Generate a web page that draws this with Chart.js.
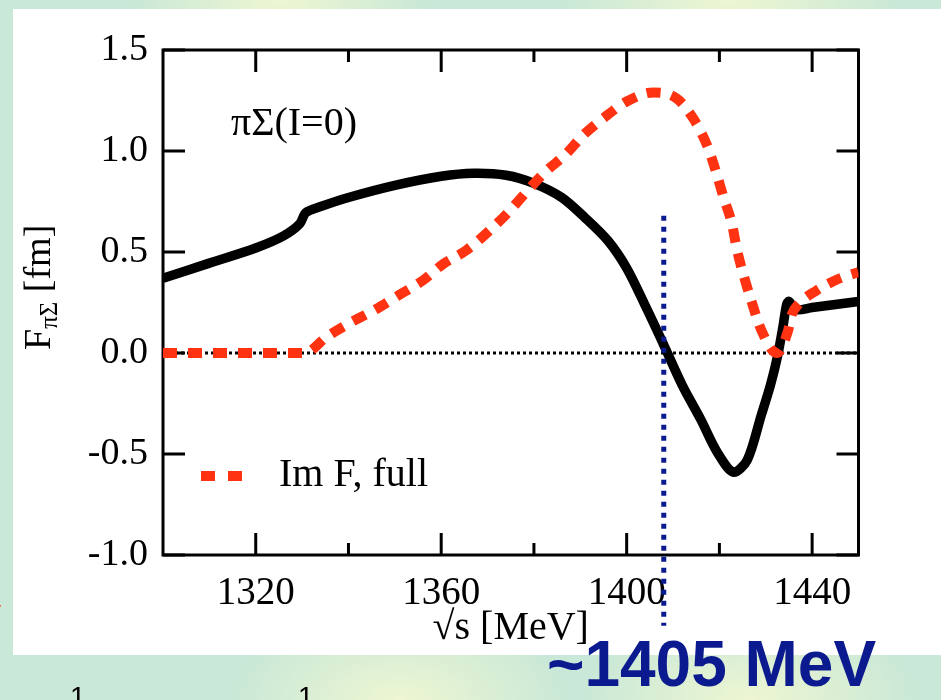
<!DOCTYPE html>
<html><head><meta charset="utf-8">
<script src="https://cdn.jsdelivr.net/npm/chart.js@4/dist/chart.umd.min.js"></script>
<style>
html,body{margin:0;padding:0;width:941px;height:700px;overflow:hidden;}
body{position:relative;background:
 radial-gradient(ellipse 150px 60px at 280px 0px, #eef6d2, rgba(238,246,210,0)),
 radial-gradient(ellipse 170px 60px at 730px 0px, #eef6d2, rgba(238,246,210,0)),
 radial-gradient(ellipse 170px 90px at 400px 700px, #eef6d2, rgba(238,246,210,0)),
 radial-gradient(ellipse 170px 90px at 750px 700px, #eef6d2, rgba(238,246,210,0)),
 #c9e8d7;}
#panel{position:absolute;left:13px;top:9px;width:928px;height:646px;background:#fff;}
#c{position:absolute;left:0;top:0;}
#note{position:absolute;left:547px;top:632px;font:bold 64px "Liberation Sans",Arial,sans-serif;line-height:64px;color:#0b1a8e;white-space:nowrap;}
.frag{position:absolute;font:28px "Liberation Sans",Arial,sans-serif;line-height:28px;color:#000;}
</style></head>
<body>
<div id="panel"></div>
<canvas id="c" width="941" height="700"></canvas>
<div id="note">~1405 MeV</div>
<span class="frag" style="left:70px;top:683px;">1</span>
<span class="frag" style="left:298px;top:683px;">1</span>
<span class="frag" style="left:-10px;top:596px;color:#ff3300;font-size:22px;">v</span>
<script>
// ---- data ----
const reX = [1300,1310,1320,1326,1329.5,1330.8,1334,1340,1350,1360,1367,1374,1380,1386,1391,1396,1400,1404,1408,1412,1416,1419.5,1423,1426,1429,1431,1432.5,1433.7,1434.5,1435,1436.5,1440,1445,1450];
const reF = [0.37,0.445,0.52,0.58,0.64,0.695,0.725,0.77,0.83,0.875,0.89,0.88,0.84,0.77,0.67,0.555,0.42,0.235,0.04,-0.16,-0.33,-0.49,-0.59,-0.53,-0.31,-0.16,-0.02,0.13,0.24,0.255,0.215,0.225,0.24,0.255];
const imX = [1300,1310,1320,1330.5,1335.3,1340.4,1345.4,1350.4,1356.1,1360.4,1365.5,1370.6,1374.2,1378.5,1382.6,1386.7,1390.7,1395.4,1400,1405.8,1410.8,1414.4,1417.3,1419.1,1420.9,1422.7,1423.8,1427,1429.1,1432.4,1434.8,1435.6,1437,1441,1446,1450];
const imF = [0,0,0,0,0.08,0.15,0.21,0.28,0.36,0.44,0.51,0.61,0.69,0.80,0.90,0.98,1.08,1.17,1.245,1.29,1.26,1.16,1.03,0.91,0.77,0.64,0.51,0.25,0.11,0,0.11,0.19,0.24,0.31,0.37,0.40];
const markX = [1408,1408];
const markY = [0.68,-1.35];
const zeroX = [1300,1450];
const zeroY = [0,0];
const xTicks = [1320,1360,1400,1440];
const xMinor = [1340,1380,1420];
const yTicks = [-1.0,-0.5,0.0,0.5,1.0,1.5];
const seriesName = 'Im F, full';
const panelLabel = 'πΣ(I=0)';

const pts = (xs, ys) => xs.map((x, i) => ({x, y: ys[i]}));
const SERIF = '"Liberation Serif","Times New Roman",serif';

const framePlugin = {
  id: 'frame',
  beforeDatasetsDraw(chart) {
    const {ctx, chartArea: a, scales: {x, y}} = chart;
    ctx.save();
    ctx.strokeStyle = '#000';
    ctx.lineWidth = 3;
    ctx.strokeRect(a.left, a.top, a.right - a.left, a.bottom - a.top);
    ctx.beginPath();
    xTicks.forEach(v => { const p = x.getPixelForValue(v);
      ctx.moveTo(p, a.bottom); ctx.lineTo(p, a.bottom - 22);
      ctx.moveTo(p, a.top); ctx.lineTo(p, a.top + 22); });
    xMinor.forEach(v => { const p = x.getPixelForValue(v);
      ctx.moveTo(p, a.bottom); ctx.lineTo(p, a.bottom - 12);
      ctx.moveTo(p, a.top); ctx.lineTo(p, a.top + 12); });
    yTicks.forEach(v => { const p = y.getPixelForValue(v);
      ctx.moveTo(a.left, p); ctx.lineTo(a.left + 22, p);
      ctx.moveTo(a.right, p); ctx.lineTo(a.right - 22, p); });
    ctx.stroke();
    ctx.restore();
  },
  afterDatasetsDraw(chart) {
    const {ctx, chartArea: a} = chart;
    ctx.save();
    ctx.fillStyle = '#000';
    ctx.textBaseline = 'alphabetic';
    ctx.font = '40px ' + SERIF;
    ctx.fillText(panelLabel, a.left + 68, 135);
    // legend
    const ds = chart.data.datasets[1];
    ctx.save();
    ctx.strokeStyle = ds.borderColor;
    ctx.lineWidth = ds.borderWidth;
    ctx.setLineDash([14, 13]);
    ctx.beginPath(); ctx.moveTo(a.left + 38, 476); ctx.lineTo(a.left + 81, 476); ctx.stroke();
    ctx.restore();
    ctx.fillText(ds.label, a.left + 116, 486);
    // y axis title with subscript
    ctx.translate(50, 350);
    ctx.rotate(-Math.PI / 2);
    ctx.font = '38px ' + SERIF;
    ctx.fillText('F', 0, 0);
    let w = ctx.measureText('F').width;
    ctx.font = '25px ' + SERIF;
    ctx.fillText('πΣ', w, 7);
    w += ctx.measureText('πΣ').width;
    ctx.font = '38px ' + SERIF;
    ctx.fillText(' [fm]', w, 0);
    ctx.restore();
  }
};

new Chart(document.getElementById('c'), {
  type: 'line',
  data: { datasets: [
    { label: 'mark', data: pts(markX, markY), borderColor: '#0b1a8e', borderWidth: 5, borderDash: [5, 6], pointRadius: 0, clip: false, order: 0 },
    { label: seriesName, data: pts(imX, imF), borderColor: '#ff3311', borderWidth: 10, borderDash: [14, 11], pointRadius: 0, cubicInterpolationMode: 'monotone', clip: 0, order: 1 },
    { label: 'Re F', data: pts(reX, reF), borderColor: '#000', borderWidth: 9.5, pointRadius: 0, tension: 0.3, borderJoinStyle: 'round', clip: 0, order: 2 },
    { label: 'zero', data: pts(zeroX, zeroY), borderColor: '#000', borderWidth: 3, borderDash: [3, 3], pointRadius: 0, clip: 0, order: 3 }
  ]},
  options: {
    responsive: false,
    animation: false,
    layout: { padding: { left: 0, right: 82.5, top: 50, bottom: 0 } },
    plugins: { legend: { display: false }, tooltip: { enabled: false } },
    scales: {
      x: {
        type: 'linear', min: 1300, max: 1450,
        afterBuildTicks: s => { s.ticks = xTicks.map(v => ({ value: v })); },
        afterFit: s => { s.height = 145; },
        ticks: { color: '#000', font: { family: SERIF, size: 39 }, padding: 15, maxRotation: 0, autoSkip: false, callback: v => String(v) },
        grid: { display: false, drawTicks: false },
        border: { display: false },
        title: { display: true, text: '√s [MeV]', color: '#000', font: { family: SERIF, size: 40 }, padding: { top: 0, bottom: 48 } }
      },
      y: {
        type: 'linear', min: -1, max: 1.5,
        afterBuildTicks: s => { s.ticks = yTicks.map(v => ({ value: v })); },
        afterFit: s => { s.width = 163; },
        ticks: { color: '#000', font: { family: SERIF, size: 38 }, padding: 15, autoSkip: false, callback: v => Number(v).toFixed(1) },
        grid: { display: false, drawTicks: false },
        border: { display: false }
      }
    }
  },
  plugins: [framePlugin]
});
</script>
</body></html>
